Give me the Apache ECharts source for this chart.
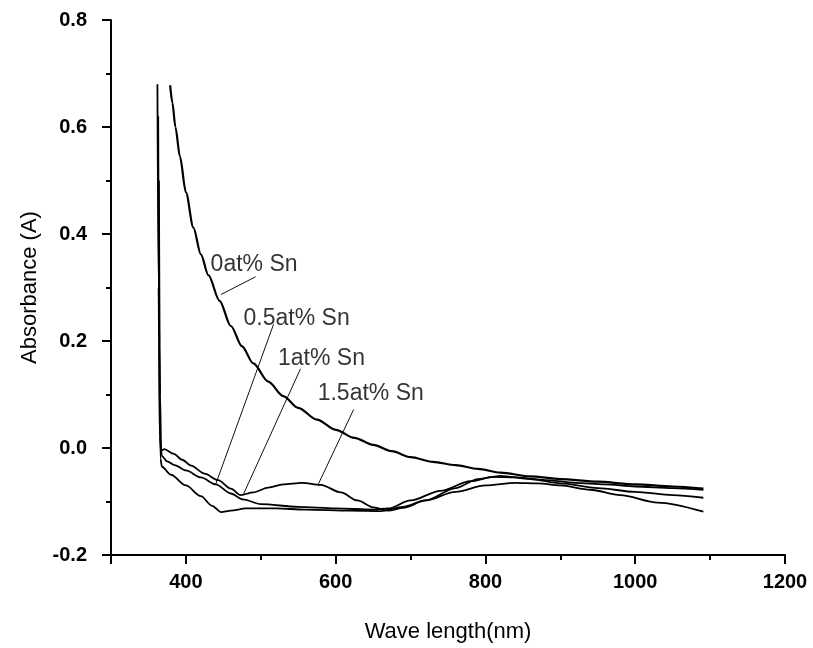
<!DOCTYPE html>
<html>
<head>
<meta charset="utf-8">
<script src="https://cdn.jsdelivr.net/npm/echarts@6/dist/echarts.min.js"></script>
<style>
  html, body { margin: 0; padding: 0; background: #fff; }
  #chart { width: 813px; height: 648px; }
</style>
</head>
<body>
<div id="chart"></div>
<script>
// Absorbance spectra of Sn-doped films: [wavelength (nm), absorbance (A)]
const sn0 = [[379,0.678],[382,0.645],[386,0.6],[392,0.545],[400,0.478],[410,0.412],[420,0.362],[430,0.323],[445,0.275],[460,0.228],[475,0.19],[490,0.158],[510,0.124],[530,0.097],[550,0.075],[575,0.053],[600,0.034],[625,0.019],[650,0.006],[675,-0.006],[700,-0.017],[730,-0.026],[760,-0.032],[790,-0.039],[820,-0.046],[860,-0.053],[900,-0.058],[950,-0.063],[1000,-0.068],[1050,-0.072],[1091,-0.076]];
const sn05 = [[362,0.68],[363.5,0.3],[365,0.02],[368,-0.015],[375,-0.025],[385,-0.032],[400,-0.042],[420,-0.055],[440,-0.068],[460,-0.085],[476,-0.096],[500,-0.105],[550,-0.11],[600,-0.113],[650,-0.115],[670,-0.113],[700,-0.098],[740,-0.08],[780,-0.062],[810,-0.054],[840,-0.055],[880,-0.06],[920,-0.065],[960,-0.068],[1000,-0.072],[1050,-0.075],[1091,-0.078]];
const sn1 = [[363,0.62],[364.5,0.2],[366,-0.02],[368,-0.035],[380,-0.05],[400,-0.07],[420,-0.09],[435,-0.108],[447,-0.12],[460,-0.117],[480,-0.113],[520,-0.113],[560,-0.115],[620,-0.117],[660,-0.118],[690,-0.11],[720,-0.098],[760,-0.082],[800,-0.07],[840,-0.065],[870,-0.066],[900,-0.07],[940,-0.078],[980,-0.088],[1030,-0.102],[1091,-0.119]];
const sn15 = [[364,0.5],[365.5,0.1],[367,-0.005],[371,-0.002],[384,-0.011],[395,-0.022],[407,-0.033],[425,-0.048],[443,-0.06],[460,-0.076],[473,-0.088],[490,-0.083],[510,-0.074],[530,-0.068],[555,-0.065],[580,-0.069],[607,-0.083],[629,-0.098],[651,-0.111],[670,-0.117],[690,-0.112],[720,-0.098],[760,-0.075],[790,-0.058],[820,-0.052],[860,-0.058],[900,-0.066],[950,-0.075],[1000,-0.082],[1050,-0.088],[1091,-0.093]];

// Curve annotations: text, text anchor (left-middle), leader line start and end
const labelNames = ['0at% Sn', '0.5at% Sn', '1at% Sn', '1.5at% Sn'];
const labelAnchors = [[433,0.343],[477,0.241],[523,0.167],[576,0.102]];
const leaderStarts = [[493,0.320],[517,0.231],[553,0.148],[624,0.072]];
const leaderEnds = [[447,0.287],[440,-0.067],[476,-0.089],[577,-0.067]];

// Axis ticks
const xMajorTicks = [300,400,600,800,1000,1200];
const xLabelTicks = [400,600,800,1000,1200];
const xMinorTicks = [500,700,900,1100];

const FONT = 'Liberation Sans, Arial, sans-serif';
const chart = echarts.init(document.getElementById('chart'), null, { renderer: 'canvas' });

const curveStyle = (w) => ({
  type: 'line', showSymbol: false, symbol: 'none', smooth: 0.3, smoothMonotone: 'x',
  lineStyle: { color: '#000', width: w }, silent: true, z: 3
});

const series = [
  Object.assign(curveStyle(2.2), { name: '0at% Sn', data: sn0 }),
  Object.assign(curveStyle(1.8), { name: '0.5at% Sn', data: sn05 }),
  Object.assign(curveStyle(1.8), { name: '1at% Sn', data: sn1 }),
  Object.assign(curveStyle(1.8), { name: '1.5at% Sn', data: sn15 })
];

leaderStarts.forEach((s, i) => {
  series.push({
    type: 'line', data: [s, leaderEnds[i]], symbol: 'none', silent: true,
    lineStyle: { color: '#111', width: 1 }, z: 2
  });
});

series.push({
  type: 'scatter', symbolSize: 0, silent: true, z: 4,
  data: labelAnchors.map((p, i) => ({ value: p, name: labelNames[i] })),
  label: {
    show: true, position: 'right', distance: 0, formatter: '{b}',
    color: '#000', fontFamily: FONT, fontSize: 23
  }
});

const axisCommon = {
  type: 'value',
  axisLine: { show: true, onZero: false, lineStyle: { color: '#000', width: 2 } },
  splitLine: { show: false }
};

chart.setOption({
  animation: false,
  backgroundColor: '#fff',
  grid: { left: 111, right: 28, top: 20, bottom: 91, containLabel: false },
  xAxis: [
    Object.assign({}, axisCommon, {
      min: 300, max: 1200, interval: 100, position: 'bottom',
      name: 'Wave length(nm)', nameLocation: 'middle', nameGap: 66,
      nameTextStyle: { color: '#000', fontFamily: FONT, fontSize: 22 },
      axisTick: { show: true, inside: false, length: 9, lineStyle: { color: '#000', width: 2 }, customValues: xMajorTicks },
      axisLabel: { show: true, margin: 17, color: '#000', fontFamily: FONT, fontSize: 20, fontWeight: 'bold',
        customValues: xLabelTicks, formatter: (v) => String(v) }
    }),
    Object.assign({}, axisCommon, {
      min: 300, max: 1200, interval: 100, position: 'bottom',
      axisTick: { show: true, length: 5, lineStyle: { color: '#000', width: 2 }, customValues: xMinorTicks },
      axisLabel: { show: false }
    })
  ],
  yAxis: Object.assign({}, axisCommon, {
    min: -0.2, max: 0.8, interval: 0.2,
    name: 'Absorbance (A)', nameLocation: 'middle', nameGap: 70, nameRotate: 90,
    nameTextStyle: { color: '#000', fontFamily: FONT, fontSize: 22 },
    axisTick: { show: true, length: 9, lineStyle: { color: '#000', width: 2 } },
    minorTick: { show: true, splitNumber: 2, length: 5, lineStyle: { color: '#000', width: 2 } },
    axisLabel: { margin: 24, color: '#000', fontFamily: FONT, fontSize: 20, fontWeight: 'bold',
      formatter: (v) => v.toFixed(1) }
  }),
  series: series
});
</script>
</body>
</html>
